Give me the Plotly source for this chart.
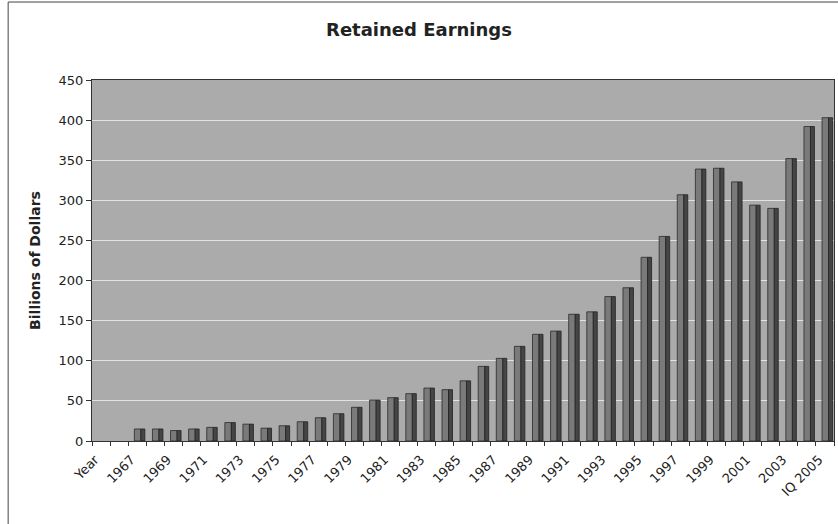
import plotly.graph_objects as go

years = ["Year", "1966"] + [str(y) for y in range(1967, 2005)] + ["IQ 2005"]

earnings = [
    None, None,
    15, 15, 13, 15, 17, 23, 21, 16, 19, 24,      # 1967-1976
    29, 34, 42, 51, 54, 59, 66, 64, 75, 93,      # 1977-1986
    103, 118, 133, 137, 158, 161, 180, 191, 229, 255,  # 1987-1996
    307, 339, 340, 323, 294, 290, 352, 392,      # 1997-2004
    403,                                         # IQ 2005
]

tick_labels = [lab if i % 2 == 0 else "" for i, lab in enumerate(years)]

FONT = "DejaVu Sans"

fig = go.Figure()
# front face of each column
fig.add_trace(
    go.Bar(
        x=years,
        y=earnings,
        width=0.36,
        offset=-0.16,
        marker={"color": "#7a7a7a", "line": {"color": "#2a2a2a", "width": 0.8}},
        showlegend=False,
        hovertemplate="%{x}: %{y}<extra></extra>",
    )
)
# darker side face
fig.add_trace(
    go.Bar(
        x=years,
        y=earnings,
        width=0.22,
        offset=0.2,
        marker={"color": "#454545", "line": {"color": "#222222", "width": 0.8}},
        showlegend=False,
        hoverinfo="skip",
    )
)

fig.update_layout(
    width=838,
    height=524,
    barmode="overlay",
    paper_bgcolor="white",
    plot_bgcolor="#ababab",
    margin={"l": 92, "r": 4, "t": 80, "b": 83},
    font={"family": FONT, "color": "#222222", "size": 12},
    title={
        "text": "<b>Retained Earnings</b>",
        "x": 0.5,
        "xanchor": "center",
        "y": 0.943,
        "yanchor": "middle",
        "font": {"family": FONT, "size": 18, "color": "#222222"},
    },
    xaxis={
        "type": "category",
        "categoryorder": "array",
        "categoryarray": years,
        "tickmode": "array",
        "tickvals": years,
        "ticktext": tick_labels,
        "tickangle": -45,
        "tickson": "boundaries",
        "ticks": "outside",
        "ticklen": 4,
        "tickcolor": "#333333",
        "ticklabelshift": -6,
        "ticklabelstandoff": 5,
        "tickfont": {"family": FONT, "size": 13, "color": "#222222"},
        "showgrid": False,
        "showline": True,
        "linecolor": "#333333",
        "linewidth": 1,
        "mirror": True,
        "automargin": False,
        "range": [-0.5, len(years) - 0.5],
    },
    yaxis={
        "range": [0, 450],
        "dtick": 50,
        "tick0": 0,
        "ticks": "outside",
        "ticklen": 5,
        "tickcolor": "#333333",
        "tickfont": {"family": FONT, "size": 13, "color": "#222222"},
        "showgrid": True,
        "gridcolor": "#e2e2e2",
        "gridwidth": 1,
        "zeroline": False,
        "showline": True,
        "linecolor": "#333333",
        "linewidth": 1,
        "mirror": True,
        "automargin": False,
        "title": {
            "text": "<b>Billions of Dollars</b>",
            "font": {"family": FONT, "size": 14, "color": "#222222"},
            "standoff": 14,
        },
    },
)

# outer chart border (left, top)
border = {"color": "#444444", "width": 1}
fig.add_shape(type="line", xref="paper", yref="paper", x0=-0.113, x1=-0.113, y0=-0.3, y1=1.216, line=border)
fig.add_shape(type="line", xref="paper", yref="paper", x0=-0.113, x1=1.006, y0=1.216, y1=1.216, line=border)

# the page's default body margin would push the 838x524 figure off the window
fig.write_html(
    "out.html",
    config={"displayModeBar": False},
    post_script="document.body.style.margin = '0';",
)
